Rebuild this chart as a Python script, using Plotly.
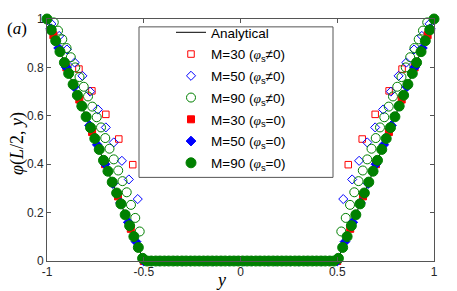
import plotly.graph_objects as go

# ---------------- data ----------------
x_ticks = [-1, -0.5, 0, 0.5, 1]
x_ticktext = ["-1", "-0.5", "0", "0.5", "1"]
y_ticks = [0, 0.2, 0.4, 0.6, 0.8, 1]
y_ticktext = ["0", "0.2", "0.4", "0.6", "0.8", "1"]

y_analytical = [-1.0, -0.5, 0.5, 1.0]
phi_analytical = [1.0, 0.0, 0.0, 1.0]

y_m30_open = [-0.835, -0.768, -0.696, -0.629, -0.557,
              0.557, 0.629, 0.696, 0.768, 0.835]
phi_m30_open = [0.793, 0.703, 0.606, 0.504, 0.398,
                0.398, 0.504, 0.606, 0.703, 0.793]

y_m50_open = [-0.977, -0.937, -0.897, -0.857, -0.817, -0.777, -0.737, -0.696, -0.655, -0.613, -0.577, -0.531,
              0.531, 0.577, 0.613, 0.655, 0.696, 0.737, 0.777, 0.817, 0.857, 0.897, 0.937, 0.977]
phi_m50_open = [0.98, 0.93, 0.874, 0.82, 0.765, 0.70, 0.626, 0.552, 0.49, 0.414, 0.337, 0.256,
                0.256, 0.337, 0.414, 0.49, 0.552, 0.626, 0.70, 0.765, 0.82, 0.874, 0.93, 0.98]

y_m90_open = [-0.965, -0.943, -0.921, -0.899, -0.877, -0.854, -0.832, -0.810, -0.788, -0.766, -0.743,
              -0.721, -0.699, -0.677, -0.655, -0.632, -0.610, -0.588, -0.566, -0.544, -0.521,
              0.521, 0.544, 0.566, 0.588, 0.610, 0.632, 0.655, 0.677, 0.699, 0.721,
              0.743, 0.766, 0.788, 0.810, 0.832, 0.854, 0.877, 0.899, 0.921, 0.943, 0.965]
phi_m90_open = [0.986, 0.952, 0.916, 0.88, 0.842, 0.80, 0.76, 0.72, 0.68, 0.638, 0.594,
                0.552, 0.508, 0.464, 0.42, 0.374, 0.33, 0.284, 0.232, 0.178, 0.122,
                0.122, 0.178, 0.232, 0.284, 0.33, 0.374, 0.42, 0.464, 0.508, 0.552,
                0.594, 0.638, 0.68, 0.72, 0.76, 0.80, 0.842, 0.88, 0.916, 0.952, 0.986]

y_m30 = [-0.967, -0.9, -0.833, -0.767, -0.7, -0.633, -0.567, -0.5, -0.433, -0.367, -0.3, -0.233, -0.167, -0.1, -0.033,
         0.033, 0.1, 0.167, 0.233, 0.3, 0.367, 0.433, 0.5, 0.567, 0.633, 0.7, 0.767, 0.833, 0.9, 0.967]
phi_m30 = [0.933, 0.8, 0.667, 0.533, 0.4, 0.267, 0.133, 0, 0, 0, 0, 0, 0, 0, 0,
           0, 0, 0, 0, 0, 0, 0, 0, 0.133, 0.267, 0.4, 0.533, 0.667, 0.8, 0.933]

y_m50 = [-0.98, -0.94, -0.9, -0.86, -0.82, -0.78, -0.74, -0.7, -0.66, -0.62, -0.58, -0.54, -0.5,
         -0.46, -0.42, -0.38, -0.34, -0.3, -0.26, -0.22, -0.18, -0.14, -0.1, -0.06, -0.02,
         0.02, 0.06, 0.1, 0.14, 0.18, 0.22, 0.26, 0.3, 0.34, 0.38, 0.42, 0.46,
         0.5, 0.54, 0.58, 0.62, 0.66, 0.7, 0.74, 0.78, 0.82, 0.86, 0.9, 0.94, 0.98]
phi_m50 = [0.96, 0.88, 0.8, 0.72, 0.64, 0.56, 0.48, 0.4, 0.32, 0.24, 0.16, 0.08, 0,
           0, 0, 0, 0, 0, 0, 0, 0, 0, 0, 0, 0,
           0, 0, 0, 0, 0, 0, 0, 0, 0, 0, 0, 0,
           0, 0.08, 0.16, 0.24, 0.32, 0.4, 0.48, 0.56, 0.64, 0.72, 0.8, 0.88, 0.96]

y_m90 = [-1.0, -0.978, -0.955, -0.933, -0.910, -0.888, -0.865, -0.843, -0.820, -0.798, -0.775, -0.753,
         -0.730, -0.708, -0.685, -0.663, -0.640, -0.618, -0.596, -0.573, -0.551, -0.528, -0.506,
         -0.483, -0.461, -0.438, -0.416, -0.393, -0.371, -0.348, -0.326, -0.303, -0.281, -0.258,
         -0.236, -0.213, -0.191, -0.169, -0.146, -0.124, -0.101, -0.079, -0.056, -0.034, -0.011,
         0.011, 0.034, 0.056, 0.079, 0.101, 0.124, 0.146, 0.169, 0.191, 0.213, 0.236,
         0.258, 0.281, 0.303, 0.326, 0.348, 0.371, 0.393, 0.416, 0.438, 0.461, 0.483,
         0.506, 0.528, 0.551, 0.573, 0.596, 0.618, 0.640, 0.663, 0.685, 0.708, 0.730,
         0.753, 0.775, 0.798, 0.820, 0.843, 0.865, 0.888, 0.910, 0.933, 0.955, 0.978, 1.0]
phi_m90 = [1.0, 0.955, 0.910, 0.865, 0.820, 0.775, 0.730, 0.685, 0.640, 0.596, 0.551, 0.506,
           0.461, 0.416, 0.371, 0.326, 0.281, 0.236, 0.191, 0.146, 0.101, 0.056, 0.011,
           0, 0, 0, 0, 0, 0, 0, 0, 0, 0, 0,
           0, 0, 0, 0, 0, 0, 0, 0, 0, 0, 0,
           0, 0, 0, 0, 0, 0, 0, 0, 0, 0, 0,
           0, 0, 0, 0, 0, 0, 0, 0, 0, 0, 0,
           0.011, 0.056, 0.101, 0.146, 0.191, 0.236, 0.281, 0.326, 0.371, 0.416, 0.461,
           0.506, 0.551, 0.596, 0.640, 0.685, 0.730, 0.775, 0.820, 0.865, 0.910, 0.955, 1.0]

# ---------------- figure ----------------
RED = "#ff0000"
BLUE = "#0000ff"
GREEN = "#008000"
PHI = "<span style='font-family:Liberation Serif'><i>φ</i></span>"

fig = go.Figure()
fig.add_trace(go.Scatter(x=y_analytical, y=phi_analytical, mode="lines",
                         line=dict(color="black", width=1), name="Analytical",
                         legendgroup="a"))

series = [
    (y_m30_open, phi_m30_open, "square-open", RED, 6.5, f"M=30 ({PHI}<sub>s</sub>≠0)"),
    (y_m50_open, phi_m50_open, "diamond-open", BLUE, 7, f"M=50 ({PHI}<sub>s</sub>≠0)"),
    (y_m90_open, phi_m90_open, "circle-open", GREEN, 9, f"M=90 ({PHI}<sub>s</sub>≠0)"),
    (y_m30, phi_m30, "square", RED, 7, f"M=30 ({PHI}<sub>s</sub>=0)"),
    (y_m50, phi_m50, "diamond", BLUE, 7.5, f"M=50 ({PHI}<sub>s</sub>=0)"),
    (y_m90, phi_m90, "circle", GREEN, 10, f"M=90 ({PHI}<sub>s</sub>=0)"),
]
for i, (xs, ys, sym, col, sz, nm) in enumerate(series):
    fig.add_trace(go.Scatter(
        x=xs, y=ys, mode="markers", name=nm, legendgroup=f"g{i}",
        cliponaxis=False,
        marker=dict(symbol=sym, color=col, size=sz, line=dict(color=col, width=1)),
    ))

L, R, T, B = 47, 23, 15, 30
W, H = 457, 291
pw, ph = W - L - R, H - T - B


def px2paper(px, py):
    return (px - L) / pw, (H - B - py) / ph


axis_common = dict(showline=True, linecolor="#555555", linewidth=1, mirror="ticks",
                   ticks="inside", ticklen=4, tickcolor="#555555", showgrid=False,
                   zeroline=False, tickfont=dict(family="Liberation Sans, Arial", size=12, color="#262626"))

fig.update_layout(
    width=W, height=H,
    margin=dict(l=L, r=R, t=T, b=B),
    paper_bgcolor="white", plot_bgcolor="white",
    xaxis=dict(range=[-1, 1], tickvals=x_ticks, ticktext=x_ticktext, **axis_common),
    yaxis=dict(range=[0, 1], tickvals=y_ticks, ticktext=y_ticktext, **axis_common),
    showlegend=True,
    legend=dict(x=px2paper(171, 0)[0], y=px2paper(0, 13)[1], xanchor="left", yanchor="top",
                bgcolor="rgba(0,0,0,0)", borderwidth=0, tracegroupgap=1.2, maxheight=290,
                font=dict(family="Liberation Sans, Arial", size=13.5, color="black")),
)

x0, y0 = px2paper(139, 176)
x1, y1 = px2paper(333, 23)
fig.add_shape(type="rect", xref="paper", yref="paper", x0=x0, y0=y0, x1=x1, y1=y1,
              line=dict(color="#555555", width=1), fillcolor="white", layer="above")

ax, ay = px2paper(17, 25)
fig.add_annotation(x=ax, y=ay, xref="paper", yref="paper", text="(<i>a</i>)", showarrow=False,
                   xanchor="center", yanchor="middle",
                   font=dict(family="Liberation Serif", size=17, color="black"))
lx, ly = px2paper(18, 142)
fig.add_annotation(x=lx, y=ly, xref="paper", yref="paper",
                   text="<i>φ</i>(<i>L</i>/2, <i>y</i>)", textangle=-90, showarrow=False,
                   xanchor="center", yanchor="middle",
                   font=dict(family="Liberation Serif", size=18, color="black"))
bx, by = px2paper(221, 280)
fig.add_annotation(x=bx, y=by, xref="paper", yref="paper", text="<i>y</i>", showarrow=False,
                   xanchor="center", yanchor="middle",
                   font=dict(family="Liberation Serif", size=18, color="black"))

fig.write_html("out.html", config={"displayModeBar": False},
               post_script="document.body.style.margin='0px';")
